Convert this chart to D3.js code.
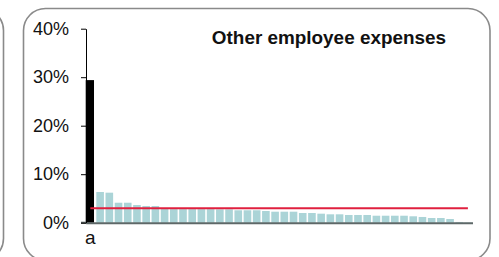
<!DOCTYPE html>
<html>
<head>
<meta charset="utf-8">
<script src="https://cdn.jsdelivr.net/npm/d3@7"></script>
<style>
  html, body { margin: 0; padding: 0; background: #fff; }
  svg { display: block; }
  text { font-family: "Liberation Sans", Arial, sans-serif; fill: #111; }
</style>
</head>
<body>
<div id="chart"></div>
<script>
// ---- data ----
const categories = ["a","b","c","d","e","f","g","h","i","j","k","l","m","n","o","p","q","r","s","t","u","v","w","x","y","z",
                    "aa","ab","ac","ad","ae","af","ag","ah","ai","aj","ak","al","am","an","ao","ap"];
const values = [29.4, 6.33, 6.19, 4.12, 4.12, 3.65, 3.44, 3.44, 2.85, 2.8, 2.8, 2.8, 2.8, 2.8, 2.75, 2.75,
                2.56, 2.56, 2.56, 2.41, 2.27, 2.27, 2.27, 2.0, 2.0, 1.86, 1.73, 1.73, 1.59, 1.59, 1.59,
                1.44, 1.44, 1.44, 1.44, 1.32, 1.18, 0.97, 0.97, 0.76, 0.15, 0.05];
const highlighted = ["a"];
const averageValue = [3.0];
const yTicks = [0, 10, 20, 30, 40];
const xTickLabels = ["a"];
const title = "Other employee expenses";

// ---- layout ----
const W = 499, H = 257;
const svg = d3.select("#chart").append("svg").attr("width", W).attr("height", H);

// panel frames
svg.append("rect").attr("x", -470).attr("y", 8.5).attr("width", 473.5).attr("height", 252)
  .attr("rx", 22).attr("fill", "none").attr("stroke", "#8a8a8a").attr("stroke-width", 1.6);
svg.append("rect").attr("x", 23.5).attr("y", 8.5).attr("width", 466.5).attr("height", 252)
  .attr("rx", 22).attr("fill", "none").attr("stroke", "#8a8a8a").attr("stroke-width", 1.6);

const x = d3.scaleBand().domain(categories).range([85.7, 472.5]).padding(0);
const y = d3.scaleLinear().domain([0, 40]).range([222.7, 28.7]);
const step = x.step();

// bars
svg.append("g").selectAll("rect").data(categories).join("rect")
  .attr("x", (d) => highlighted.includes(d) ? x(d) : x(d) + 1.4)
  .attr("width", (d) => highlighted.includes(d) ? step - 0.9 : step - 1.6)
  .attr("y", (d, i) => y(values[i]))
  .attr("height", (d, i) => y(0) - y(values[i]))
  .attr("fill", (d) => highlighted.includes(d) ? "#000" : "#abd4d7");

// average line
const line = d3.line().x((d) => x(d) + step / 2).y(() => y(averageValue[0]));
svg.append("path").datum([categories[0], categories[categories.length - 1]])
  .attr("d", line).attr("stroke", "#e0203f").attr("stroke-width", 2).attr("fill", "none");

// x axis
const xAxis = svg.append("g").attr("transform", `translate(0,${y(0)})`)
  .call(d3.axisBottom(x).tickValues(xTickLabels).tickSize(0).tickPadding(8));
xAxis.select(".domain").attr("stroke", "#5e6868").attr("stroke-width", 2);
xAxis.selectAll("text").attr("font-size", 19).style("font-family", "'Liberation Sans', Arial, sans-serif").attr("fill", "#111");
svg.append("line").attr("x1", 81).attr("x2", 86).attr("y1", y(0)).attr("y2", y(0))
  .attr("stroke", "#5e6868").attr("stroke-width", 2);

// y axis
const yAxis = svg.append("g").attr("transform", `translate(86,0)`)
  .call(d3.axisLeft(y).tickValues(yTicks).tickFormat((d) => d + "%").tickSize(5).tickPadding(12).tickSizeOuter(0));
yAxis.select(".domain").attr("stroke", "#000").attr("stroke-width", 1);
yAxis.selectAll(".tick line").attr("stroke", "#000");
yAxis.selectAll("text").attr("font-size", 18).style("font-family", "'Liberation Sans', Arial, sans-serif").attr("fill", "#111");

// title
svg.append("text").attr("x", 446).attr("y", 44.3).attr("text-anchor", "end")
  .attr("font-size", 18.9).attr("font-weight", "bold").text(title);
</script>
</body>
</html>
